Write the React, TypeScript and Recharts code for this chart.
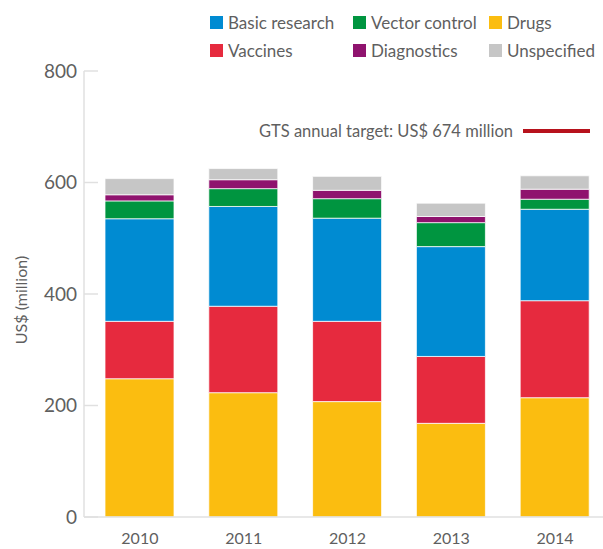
import React from "react";
import { BarChart, Bar, XAxis, YAxis } from "recharts";

const YEARS = ["2010", "2011", "2012", "2013", "2014"];

// stacked bottom → top
const DRUGS = [248, 223, 207, 168, 214];
const VACCINES = [103, 155, 144, 120, 174];
const BASIC_RESEARCH = [184, 179, 185, 197, 164];
const VECTOR_CONTROL = [32, 32, 35, 43, 18];
const DIAGNOSTICS = [11, 16, 15, 11, 18];
const UNSPECIFIED = [29, 20, 25, 24, 24];

const Y_TICKS = [0, 200, 400, 600, 800];
const TARGET_LABEL = "GTS annual target: US$ 674 million";

const SERIES = [
  { key: "drugs", name: "Drugs", color: "#fbbd10", values: DRUGS },
  { key: "vaccines", name: "Vaccines", color: "#e62a3e", values: VACCINES },
  { key: "basic", name: "Basic research", color: "#008bd2", values: BASIC_RESEARCH },
  { key: "vector", name: "Vector control", color: "#009540", values: VECTOR_CONTROL },
  { key: "diag", name: "Diagnostics", color: "#8f136e", values: DIAGNOSTICS },
  { key: "unspec", name: "Unspecified", color: "#c6c6c6", values: UNSPECIFIED },
];

// legend is laid out in two rows, three columns
const LEGEND_ROWS = [
  ["basic", "vector", "drugs"],
  ["vaccines", "diag", "unspec"],
];

const FONT = "Lato, 'Open Sans', sans-serif";
const TEXT = "#5f5f5f";

const data = YEARS.map((year, i) => {
  const row: Record<string, string | number> = { year };
  SERIES.forEach((s) => (row[s.key] = s.values[i]));
  return row;
});

function Legend() {
  const colX = [210, 353, 489];
  const rowY = [22, 50];
  return (
    <>
      {LEGEND_ROWS.map((row, r) =>
        row.map((key, c) => {
          const s = SERIES.find((d) => d.key === key)!;
          return (
            <div
              key={key}
              style={{
                position: "absolute",
                left: colX[c],
                top: rowY[r] - 10,
                height: 20,
                display: "flex",
                alignItems: "center",
                whiteSpace: "nowrap",
                fontFamily: FONT,
                fontSize: 17,
                color: TEXT,
              }}
            >
              <span style={{ width: 13, height: 13, background: s.color, marginRight: 5, display: "inline-block" }} />
              {s.name}
            </div>
          );
        })
      )}
      <div
        style={{
          position: "absolute",
          right: 13,
          top: 121,
          height: 20,
          display: "flex",
          alignItems: "center",
          whiteSpace: "nowrap",
          fontFamily: FONT,
          fontSize: 16.5,
          color: TEXT,
        }}
      >
        {TARGET_LABEL}
        <span style={{ width: 67, height: 3.5, background: "#b7121c", marginLeft: 10, display: "inline-block" }} />
      </div>
    </>
  );
}

export default function App() {
  return (
    <div style={{ position: "absolute", left: 0, top: 0, width: 603, height: 549, background: "#fff" }}>
      <BarChart
        width={603}
        height={549}
        data={data}
        barSize={69}
        margin={{ top: 71, right: -4, left: 0, bottom: 2 }}
      >
        <XAxis
          dataKey="year"
          height={30}
          padding={{ left: 4, right: 0 }}
          axisLine={{ stroke: "#e0e0e0", strokeWidth: 1.5 }}
          tickLine={false}
          tickMargin={10}
          tick={{ fill: TEXT, fontSize: 16, fontFamily: FONT }}
        />
        <YAxis
          width={84}
          domain={[0, 800]}
          ticks={Y_TICKS}
          interval={0}
          axisLine={{ stroke: "#e0e0e0", strokeWidth: 1.5 }}
          tickLine={{ stroke: "#e0e0e0", strokeWidth: 1.5 }}
          tickSize={-14}
          tickMargin={21}
          tick={{ fill: TEXT, fontSize: 19, fontFamily: FONT }}
          label={{
            content: ({ viewBox }: any) => {
              const cx = viewBox.x + 20;
              const cy = viewBox.y + viewBox.height / 2 + 6;
              return (
                <text
                  x={cx}
                  y={cy}
                  transform={`rotate(-90, ${cx}, ${cy})`}
                  textAnchor="middle"
                  dominantBaseline="central"
                  fill={TEXT}
                  fontSize={16}
                  fontFamily={FONT}
                >
                  US$ (million)
                </text>
              );
            },
          }}
        />
        {SERIES.map((s) => (
          <Bar
            key={s.key}
            dataKey={s.key}
            name={s.name}
            stackId="a"
            fill={s.color}
            stroke="rgba(255,255,255,0.75)"
            strokeWidth={1}
            isAnimationActive={false}
          />
        ))}
      </BarChart>
      <Legend />
    </div>
  );
}
